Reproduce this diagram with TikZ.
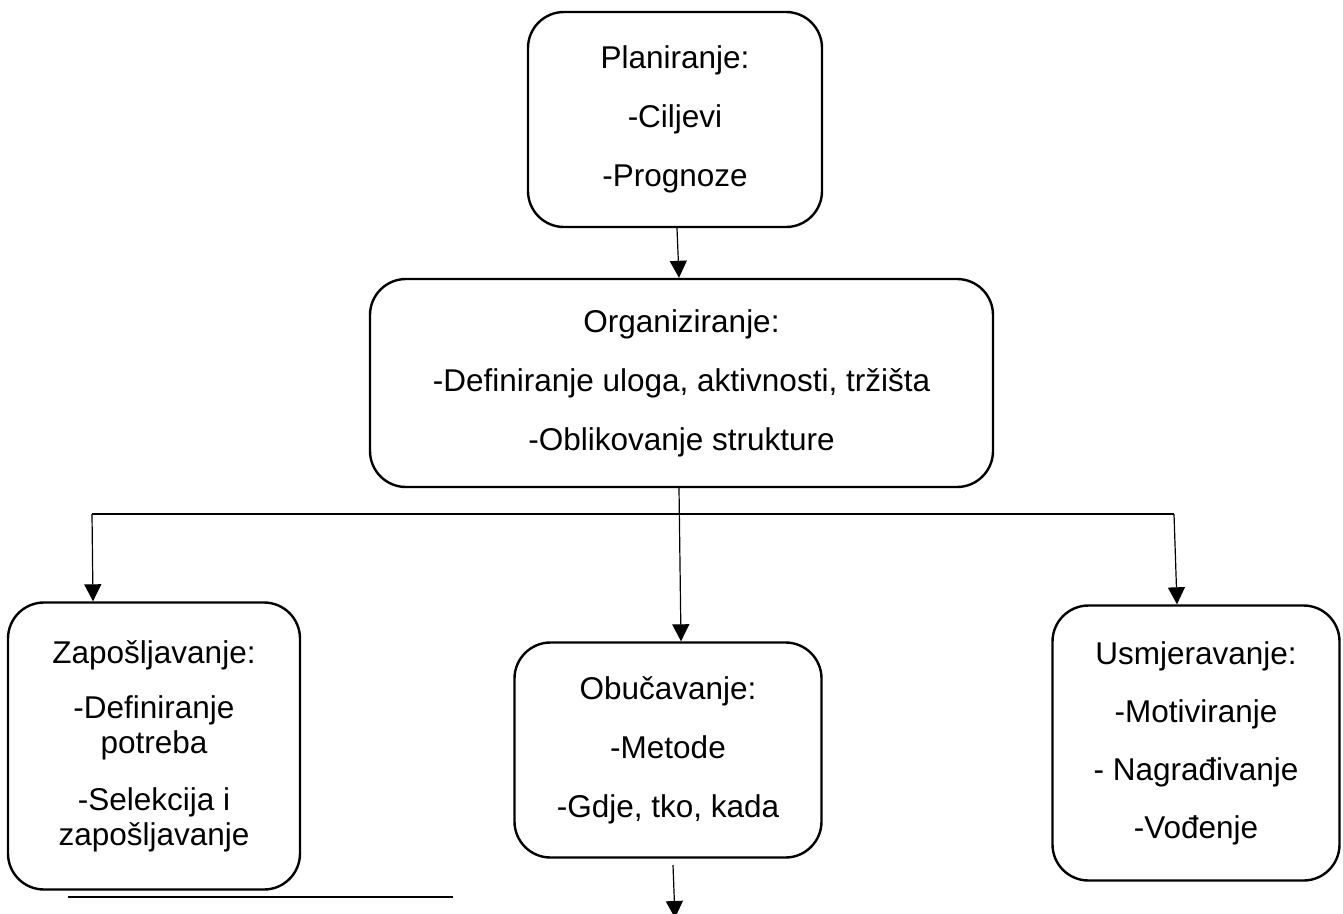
\documentclass[tikz,border=0pt]{standalone}
\usepackage{fontspec}
\setmainfont{Liberation Sans}
\usetikzlibrary{arrows.meta}
\tikzset{
  box/.style={draw, line width=2.4pt, rounded corners=36pt, align=center,
    font=\fontsize{31.5}{35}\selectfont, inner sep=0pt},
  conn/.style={line width=1.2pt},
  arr/.style={conn, -{Triangle[width=17pt,length=17pt]}},
}
\begin{document}
\begin{tikzpicture}[x=1pt,y=-1pt]
\useasboundingbox (0,0) rectangle (1343,913);
\node[box, minimum width=294pt, minimum height=215pt] (plan) at (675,119.5)
  {Planiranje:\\[24pt]-Ciljevi\\[24pt]-Prognoze};
\node[box, minimum width=623pt, minimum height=208pt] (org) at (681.5,383)
  {Organiziranje:\\[24pt]-Definiranje uloga, aktivnosti, tržišta\\[24pt]-Oblikovanje strukture};
\node[box, minimum width=292pt, minimum height=287pt] (zap) at (154,746)
  {Zapošljavanje:\\[20pt]-Definiranje\\potreba\\[22pt]-Selekcija i\\zapošljavanje};
\node[box, minimum width=307pt, minimum height=215pt] (obu) at (668,750)
  {Obučavanje:\\[24pt]-Metode\\[24pt]-Gdje, tko, kada};
\node[box, minimum width=287pt, minimum height=275pt] (usm) at (1196,743)
  {Usmjeravanje:\\[23pt]-Motiviranje\\[23pt]- Nagrađivanje\\[23pt]-Vođenje};
% connectors
\draw[arr] ([xshift=2pt]plan.south) -- ([xshift=-2.5pt]org.north);
\draw[arr] ([xshift=-2.5pt]org.south) -- ([xshift=13pt]obu.north);
\coordinate (hL) at (92,514);
\coordinate (hR) at (1174,514);
\draw[conn] (hL) -- (hR);
\draw[arr] (hL) -- ([xshift=-61pt]zap.north);
\draw[arr] (hR) -- ([xshift=-19pt]usm.north);
\coordinate (bStart) at (673,865);
\coordinate (bEnd) at (675,918);
\draw[arr] (bStart) -- (bEnd);
\coordinate (uL) at (68,897);
\coordinate (uR) at (453,897);
\draw[line width=2.2pt] (uL) -- (uR);
\end{tikzpicture}
\end{document}
